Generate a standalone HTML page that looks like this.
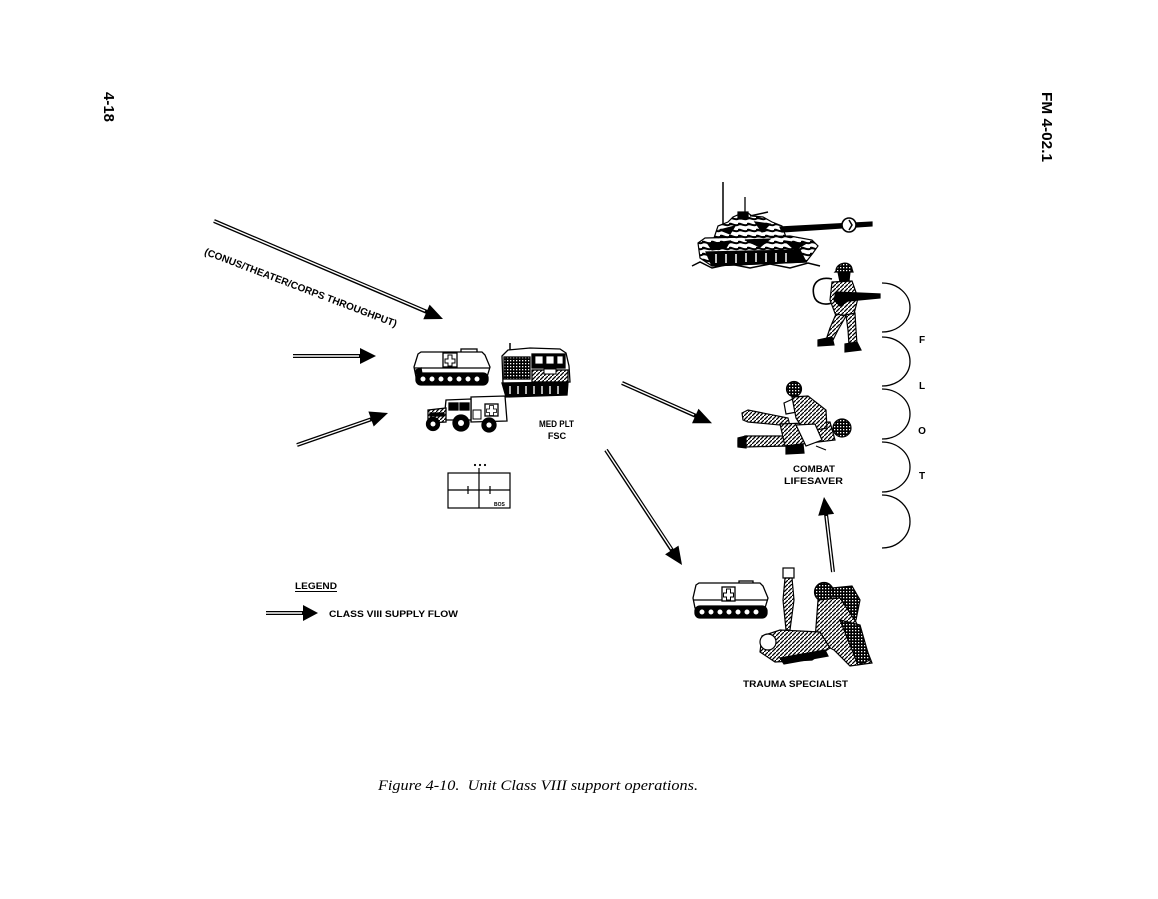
<!DOCTYPE html>
<html>
<head>
<meta charset="utf-8">
<style>
  html,body{margin:0;padding:0;background:#fff;}
  body{width:1158px;height:899px;overflow:hidden;}
  svg{display:block;}
  .lb{font-family:"Liberation Sans",Arial,sans-serif;font-weight:bold;fill:#000;}
</style>
</head>
<body>
<svg width="1158" height="899" viewBox="0 0 1158 899" xmlns="http://www.w3.org/2000/svg">
  <defs>
    <pattern id="hatch" width="4" height="4" patternUnits="userSpaceOnUse">
      <rect width="4" height="4" fill="#fff"/>
      <path d="M0,4 L4,0" stroke="#000" stroke-width="1.3"/>
    </pattern>
    <pattern id="dense" width="3" height="3" patternUnits="userSpaceOnUse">
      <rect width="3" height="3" fill="#000"/>
      <rect x="0" y="0" width="1.3" height="1.3" fill="#fff"/>
    </pattern>
    <pattern id="camo" width="9" height="6" patternUnits="userSpaceOnUse">
      <rect width="9" height="6" fill="#fff"/>
      <path d="M0,1 C3,0 5,3 9,2 L9,4 C5,5 3,2 0,4 Z" fill="#000"/>
    </pattern>
  </defs>

  <!-- page numbers -->
  <text class="lb" font-size="15" transform="translate(104,92) rotate(90)" textLength="30" lengthAdjust="spacingAndGlyphs">4-18</text>
  <text class="lb" font-size="15" transform="translate(1042,92) rotate(90)" textLength="70" lengthAdjust="spacingAndGlyphs">FM 4-02.1</text>

  <!-- ===== ARROWS ===== -->
  <g stroke-linecap="butt">
    <line x1="214" y1="221" x2="427" y2="312" stroke="#000" stroke-width="4"/>
    <line x1="214" y1="221" x2="425" y2="311" stroke="#fff" stroke-width="1.4"/>
    <polygon points="443,319 423.3,319.3 429.6,304.6" fill="#000"/>
    <line x1="293" y1="356" x2="361" y2="356" stroke="#000" stroke-width="4"/>
    <line x1="293" y1="356" x2="359" y2="356" stroke="#fff" stroke-width="1.4"/>
    <polygon points="360,348 360,364 376,356" fill="#000"/>
    <line x1="297" y1="445" x2="372" y2="419" stroke="#000" stroke-width="4"/>
    <line x1="297" y1="445" x2="370" y2="419.6" stroke="#fff" stroke-width="1.4"/>
    <polygon points="388,413 373.7,426.5 368.4,411.5" fill="#000"/>
    <line x1="622" y1="383" x2="696" y2="416" stroke="#000" stroke-width="4"/>
    <line x1="622" y1="383" x2="694" y2="415" stroke="#fff" stroke-width="1.4"/>
    <polygon points="712,423.3 692,423.3 698.5,408.7" fill="#000"/>
    <line x1="606" y1="450" x2="672.5" y2="551" stroke="#000" stroke-width="4"/>
    <line x1="606" y1="450" x2="671.4" y2="549" stroke="#fff" stroke-width="1.4"/>
    <polygon points="682,565 665.1,554.4 678.5,545.6" fill="#000"/>
    <line x1="833" y1="572" x2="826" y2="514" stroke="#000" stroke-width="4"/>
    <line x1="833" y1="572" x2="826.3" y2="516" stroke="#fff" stroke-width="1.4"/>
    <polygon points="824,497 834.1,513.9 818.2,515.8" fill="#000"/>
    <line x1="266" y1="613" x2="304" y2="613" stroke="#000" stroke-width="4"/>
    <line x1="266" y1="613" x2="302" y2="613" stroke="#fff" stroke-width="1.4"/>
    <polygon points="303,605 303,621 318,613" fill="#000"/>
  </g>

  <text class="lb" font-size="10" transform="translate(205,251) rotate(20.8)" x="0" y="3.6" textLength="205" lengthAdjust="spacingAndGlyphs">(CONUS/THEATER/CORPS THROUGHPUT)</text>

  <!-- ===== M113 ambulance (center) ===== -->
  <g stroke="#000" stroke-width="1.3">
    <rect x="461" y="349" width="16" height="4" fill="#fff"/>
    <path d="M414,367 L418,354 L421,352 L482,352 L485,355 L490,367 L487,377 L416,377 Z" fill="#fff"/>
    <line x1="414" y1="368" x2="490" y2="368"/>
    <rect x="443" y="353" width="14" height="14" fill="#fff"/>
    <path d="M448,355 h4 v4 h3 v4 h-3 v3 h-4 v-3 h-3 v-4 h3 Z" fill="#fff" stroke-width="1"/>
    <rect x="416" y="373" width="72" height="12" rx="5" fill="#000"/>
    <g fill="#fff" stroke-width="1">
      <circle cx="423" cy="379" r="3"/><circle cx="432" cy="379" r="3"/><circle cx="441" cy="379" r="3"/>
      <circle cx="450" cy="379" r="3"/><circle cx="459" cy="379" r="3"/><circle cx="468" cy="379" r="3"/>
      <circle cx="477" cy="379" r="3"/>
    </g>
    <path d="M416,370 L421,368 L422,374 L416,374 Z" fill="#000"/>
  </g>

  <!-- ===== tracked carrier ===== -->
  <g stroke="#000" stroke-width="1.3">
    <line x1="510" y1="343" x2="510" y2="358" stroke-width="1.5"/>
    <path d="M502,356 L508,350 L530,348 L560,349 L566,353 L569,366 L570,382 L503,384 Z" fill="#fff"/>
    <rect x="532" y="354" width="33" height="14" fill="#000"/>
    <rect x="535" y="356" width="8" height="8" fill="#fff" stroke-width="0.8"/>
    <rect x="546" y="356" width="8" height="8" fill="#fff" stroke-width="0.8"/>
    <rect x="557" y="356" width="6" height="8" fill="#fff" stroke-width="0.8"/>
    <rect x="504" y="357" width="26" height="22" fill="url(#dense)"/>
    <rect x="532" y="370" width="36" height="12" fill="url(#hatch)"/>
    <rect x="544" y="369" width="12" height="5" fill="#fff" stroke-width="1"/>
    <path d="M502,383 L568,382 L567,395 L506,397 Z" fill="#000"/>
    <g stroke="#fff" stroke-width="1.4">
      <line x1="510" y1="386" x2="510" y2="394"/><line x1="518" y1="386" x2="518" y2="394"/>
      <line x1="526" y1="386" x2="526" y2="394"/><line x1="534" y1="386" x2="534" y2="394"/>
      <line x1="542" y1="386" x2="542" y2="394"/><line x1="550" y1="386" x2="550" y2="394"/>
      <line x1="558" y1="386" x2="558" y2="394"/>
    </g>
  </g>

  <!-- ===== HMMWV ambulance ===== -->
  <g stroke="#000" stroke-width="1.3">
    <path d="M471,397 L505,396 L507,421 L471,422 Z" fill="#fff"/>
    <rect x="485" y="404" width="13" height="12" fill="#fff"/>
    <path d="M489.5,405.5 h4 v3.5 h3 v3.5 h-3 v3 h-4 v-3 h-3 v-3.5 h3 Z" fill="#fff" stroke-width="0.8"/>
    <path d="M446,400 L471,399 L471,420 L444,420 Z" fill="#fff"/>
    <rect x="449" y="403" width="9" height="7" fill="#000"/>
    <rect x="460" y="403" width="9" height="7" fill="#000"/>
    <path d="M428,410 L446,408 L446,422 L428,423 Z" fill="url(#hatch)"/>
    <rect x="430" y="413" width="14" height="3" fill="#000"/>
    <circle cx="433" cy="424" r="6.5" fill="#000"/><circle cx="433" cy="424" r="2.5" fill="#fff" stroke="none"/>
    <circle cx="461" cy="423" r="8" fill="#000"/><circle cx="461" cy="423" r="3" fill="#fff" stroke="none"/>
    <circle cx="489" cy="425" r="7" fill="#000"/><circle cx="489" cy="425" r="2.6" fill="#fff" stroke="none"/>
    <rect x="473" y="410" width="8" height="9" fill="#fff" stroke-width="1"/>
  </g>

  <text class="lb" font-size="9.2" x="539" y="427" textLength="35" lengthAdjust="spacingAndGlyphs">MED PLT</text>
  <text class="lb" font-size="9.2" x="557" y="439" text-anchor="middle">FSC</text>

  <!-- unit symbol -->
  <g stroke="#000" stroke-width="1.2" fill="none">
    <rect x="448" y="473" width="62" height="35" fill="#fff"/>
    <line x1="479" y1="468" x2="479" y2="508"/>
    <line x1="448" y1="490" x2="510" y2="490"/>
    <line x1="468" y1="486" x2="468" y2="494"/>
    <line x1="490" y1="486" x2="490" y2="494"/>
  </g>
  <g fill="#000">
    <circle cx="475" cy="465" r="1.1"/><circle cx="480" cy="465" r="1.1"/><circle cx="485" cy="465" r="1.1"/>
  </g>
  <text class="lb" font-size="5" x="494" y="506">BOS</text>

  <!-- ===== Tank ===== -->
  <g stroke="#000" stroke-width="1.2">
    <line x1="723" y1="182" x2="723" y2="224" stroke-width="1.5"/>
    <line x1="745" y1="197" x2="745" y2="220" stroke-width="1.3"/>
    <path d="M714,238 L718,226 L728,222 L733,217 L740,214 L748,213 L752,216 L763,217 L772,222 L782,226 L786,237 Z" fill="url(#camo)"/>
    <path d="M720,230 L735,226 L730,234 Z M755,222 L770,224 L762,232 Z" fill="#000"/>
    <rect x="738" y="212" width="10" height="7" fill="#000"/>
    <path d="M750,216 L768,212" stroke-width="1.5"/>
    <path d="M780,227 L872,222 L872,226 L782,232 Z" fill="#000"/>
    <circle cx="849" cy="225" r="7" fill="#fff" stroke-width="1.6"/>
    <path d="M849,220 L852,225 L849,230" fill="none" stroke-width="1.5"/>
    <path d="M698,243 L705,238 L790,236 L812,240 L818,246 L813,253 L806,262 L712,266 L700,258 Z" fill="url(#camo)"/>
    <path d="M708,244 L730,241 L726,248 L712,250 Z M745,240 L770,239 L760,247 Z M785,241 L805,244 L795,250 Z" fill="#000"/>
    <path d="M706,252 L800,250 L806,262 L712,266 Z" fill="#000"/>
    <g stroke="#fff" stroke-width="1.5">
      <line x1="716" y1="254" x2="716" y2="263"/><line x1="726" y1="254" x2="726" y2="263"/>
      <line x1="736" y1="254" x2="736" y2="263"/><line x1="746" y1="253" x2="746" y2="262"/>
      <line x1="756" y1="253" x2="756" y2="262"/><line x1="766" y1="253" x2="766" y2="262"/>
      <line x1="776" y1="253" x2="776" y2="262"/><line x1="786" y1="253" x2="786" y2="262"/>
    </g>
    <path d="M692,266 L700,262 L712,268 L730,264 L750,268 L770,264 L790,268 L808,263 L820,266" fill="none" stroke-width="1.5"/>
  </g>

  <!-- ===== Soldier with rifle ===== -->
  <g stroke="#000" stroke-width="1.2">
    <path d="M832,279 C818,276 811,284 814,296 C816,304 826,306 834,302" fill="none" stroke-width="1.6"/>
    <path d="M836,271 C836,262 851,260 852,269 L853,272 L835,272 Z" fill="url(#dense)"/>
    <path d="M838,272 L850,272 L849,281 L840,282 Z" fill="#000"/>
    <path d="M832,282 L852,281 L858,298 L854,314 L836,316 L830,300 Z" fill="url(#hatch)"/>
    <path d="M836,292 L880,294 L880,298 L848,301 L840,306 L834,300 Z" fill="#000"/>
    <path d="M836,314 L846,316 L838,330 L833,340 L826,340 L830,328 Z" fill="url(#hatch)"/>
    <path d="M846,315 L855,313 L856,330 L857,344 L849,345 L848,330 Z" fill="url(#hatch)"/>
    <path d="M818,340 L832,337 L834,345 L818,346 Z" fill="#000"/>
    <path d="M845,344 L857,342 L861,350 L845,352 Z" fill="#000"/>
  </g>

  <!-- ===== FLOT arcs ===== -->
  <g stroke="#000" stroke-width="1.3" fill="none">
    <path d="M882,283 A28,24.5 0 0 1 882,332"/>
    <path d="M882,337 A28,24.5 0 0 1 882,386"/>
    <path d="M882,389 A28,25 0 0 1 882,439"/>
    <path d="M882,442 A28,25 0 0 1 882,492"/>
    <path d="M882,495 A28,26.5 0 0 1 882,548"/>
  </g>
  <text class="lb" font-size="10" x="922" y="343" text-anchor="middle">F</text>
  <text class="lb" font-size="10" x="922" y="389" text-anchor="middle">L</text>
  <text class="lb" font-size="10" x="922" y="434" text-anchor="middle">O</text>
  <text class="lb" font-size="10" x="922" y="479" text-anchor="middle">T</text>

  <!-- ===== Combat lifesaver ===== -->
  <g stroke="#000" stroke-width="1.2">
    <path d="M742,413 L748,410 L788,418 L790,426 L748,422 L743,420 Z" fill="url(#hatch)"/>
    <path d="M738,440 L745,436 L786,436 L788,446 L745,447 L738,446 Z" fill="url(#hatch)"/>
    <path d="M738,438 L746,436 L746,448 L738,447 Z" fill="#000"/>
    <path d="M780,424 L830,422 L835,440 L785,446 Z" fill="url(#hatch)"/>
    <circle cx="842" cy="428" r="9" fill="url(#dense)"/>
    <circle cx="794" cy="389" r="7.5" fill="url(#dense)"/>
    <path d="M784,403 L795,398 L797,412 L786,414 Z" fill="#fff"/>
    <path d="M792,397 L808,396 L826,410 L827,428 L805,432 L796,418 Z" fill="url(#hatch)"/>
    <path d="M796,425 L815,424 L822,440 L806,446 Z" fill="#fff"/>
    <path d="M786,446 L803,444 L804,453 L786,454 Z" fill="#000"/>
    <line x1="816" y1="446" x2="826" y2="450"/>
  </g>
  <text class="lb" font-size="9.2" x="793" y="472" textLength="42" lengthAdjust="spacingAndGlyphs">COMBAT</text>
  <text class="lb" font-size="9.2" x="784" y="484" textLength="59" lengthAdjust="spacingAndGlyphs">LIFESAVER</text>

  <!-- ===== Trauma specialist group ===== -->
  <g stroke="#000" stroke-width="1.3">
    <rect x="739" y="581" width="14" height="3" fill="#fff"/>
    <path d="M693,598 L696,585 L699,583 L760,583 L763,586 L768,598 L765,608 L695,608 Z" fill="#fff"/>
    <line x1="693" y1="600" x2="768" y2="600"/>
    <rect x="722" y="587" width="13" height="14" fill="#fff"/>
    <path d="M726.5,589 h4 v4 h3 v4 h-3 v3 h-4 v-3 h-3 v-4 h3 Z" fill="#fff" stroke-width="1"/>
    <rect x="695" y="606" width="72" height="12" rx="5" fill="#000"/>
    <g fill="#fff" stroke-width="1">
      <circle cx="702" cy="612" r="3"/><circle cx="711" cy="612" r="3"/><circle cx="720" cy="612" r="3"/>
      <circle cx="729" cy="612" r="3"/><circle cx="738" cy="612" r="3"/><circle cx="747" cy="612" r="3"/>
      <circle cx="756" cy="612" r="3"/>
    </g>
  </g>
  <g stroke="#000" stroke-width="1.2">
    <rect x="783" y="568" width="11" height="10" fill="#fff"/>
    <path d="M785,578 L792,578 L794,600 L790,630 L786,630 L783,600 Z" fill="url(#hatch)"/>
    <circle cx="824" cy="592" r="9.5" fill="url(#dense)"/>
    <path d="M832,588 L852,586 L860,600 L856,620 L838,618 Z" fill="url(#dense)"/>
    <path d="M818,600 L840,598 L856,622 L872,663 L850,666 L834,650 L815,640 Z" fill="url(#hatch)"/>
    <path d="M840,620 L860,625 L870,660 L858,665 Z" fill="url(#dense)"/>
    <path d="M762,636 L780,630 L820,632 L830,648 L812,660 L775,662 L760,652 Z" fill="url(#hatch)"/>
    <circle cx="768" cy="642" r="8" fill="#fff"/>
    <path d="M780,658 L825,650 L828,656 L784,664 Z" fill="#000"/>
  </g>
  <text class="lb" font-size="9.2" x="743" y="687" textLength="105" lengthAdjust="spacingAndGlyphs">TRAUMA SPECIALIST</text>

  <!-- legend -->
  <text class="lb" font-size="9" x="295" y="589" textLength="42" lengthAdjust="spacingAndGlyphs">LEGEND</text>
  <line x1="295" y1="591.5" x2="337" y2="591.5" stroke="#000" stroke-width="1"/>
  <text class="lb" font-size="9" x="329" y="617" textLength="129" lengthAdjust="spacingAndGlyphs">CLASS VIII SUPPLY FLOW</text>

  <!-- caption -->
  <text x="378" y="790" font-family="'Liberation Serif','Times New Roman',serif" font-style="italic" font-size="15" fill="#000" textLength="320" lengthAdjust="spacingAndGlyphs">Figure 4-10.&#160; Unit Class VIII support operations.</text>
</svg>
</body>
</html>
